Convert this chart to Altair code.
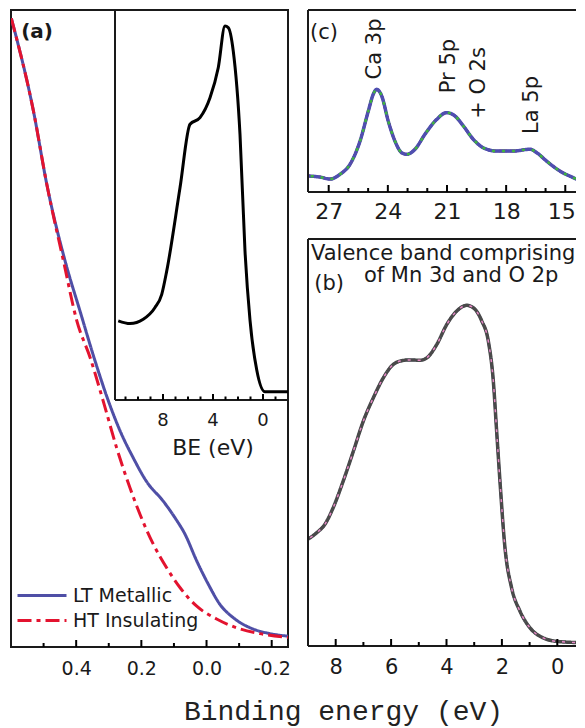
import altair as alt
import pandas as pd

# ---------------- data ----------------
SERIES_A = ["LT Metallic", "HT Insulating"]
A_LT_E = [0.599, 0.531, 0.490, 0.434, 0.388, 0.342, 0.301, 0.265, 0.225, 0.183,
          0.133, 0.097, 0.066, 0.030, -0.006, -0.041, -0.082, -0.144, -0.195, -0.250]
A_LT_I = [0.987, 0.841, 0.726, 0.606, 0.527, 0.449, 0.386, 0.339, 0.297, 0.259,
          0.229, 0.203, 0.177, 0.135, 0.098, 0.067, 0.046, 0.028, 0.021, 0.017]
A_HT_E = [0.599, 0.531, 0.490, 0.439, 0.398, 0.357, 0.317, 0.276, 0.235, 0.204,
          0.163, 0.122, 0.081, 0.030, -0.031, -0.093, -0.164, -0.250]
A_HT_I = [0.987, 0.841, 0.726, 0.606, 0.512, 0.454, 0.386, 0.313, 0.250, 0.208,
          0.161, 0.124, 0.093, 0.064, 0.044, 0.030, 0.021, 0.015]
A_TICKS_MAJOR = [0.4, 0.2, 0.0, -0.2]
A_TICKS_MINOR = [0.5, 0.3, 0.1, -0.1]

INSET_BE = [11.58, 10.64, 9.58, 8.64, 8.10, 7.70, 6.64, 5.84, 5.04, 4.24,
            3.58, 3.04, 2.78, 2.38, 1.84, 1.44, 1.04, 0.50, -0.16, -2.0]
INSET_I = [0.203, 0.196, 0.207, 0.237, 0.271, 0.331, 0.544, 0.707, 0.724, 0.775,
           0.852, 0.959, 0.955, 0.895, 0.681, 0.382, 0.205, 0.077, 0.021, 0.021]
INSET_TICKS_MAJOR = [8, 4, 0]
INSET_TICKS_MINOR = [11, 10, 9, 7, 6, 5, 3, 2, 1, -1]
INSET_TITLE = "BE (eV)"

C_E = [28.03, 27.44, 26.93, 26.43, 25.92, 25.41, 24.99, 24.74, 24.57, 24.31,
       23.98, 23.64, 23.30, 23.04, 22.62, 22.12, 21.52, 21.02, 20.60, 20.17,
       19.67, 19.16, 18.48, 17.64, 16.79, 16.45, 15.95, 15.27, 14.60, 14.00]
C_I = [0.088, 0.082, 0.071, 0.097, 0.152, 0.280, 0.445, 0.537, 0.564, 0.527,
       0.390, 0.280, 0.216, 0.207, 0.235, 0.317, 0.399, 0.436, 0.418, 0.363,
       0.290, 0.243, 0.225, 0.225, 0.235, 0.216, 0.170, 0.115, 0.079, 0.051]
C_TICKS_MAJOR = [27, 24, 21, 18, 15]
C_TICKS_MINOR = [26, 25, 23, 22, 20, 19, 17, 16]
C_PEAKS = ["Ca 3p", "Pr 5p", "+ O 2s", "La 5p"]
C_PEAK_E = [24.65, 20.90, 19.38, 16.69]
C_PEAK_I = [0.786, 0.692, 0.599, 0.478]

B_E = [8.99, 8.69, 8.39, 8.09, 7.73, 7.36, 7.00, 6.64, 6.28, 5.98, 5.68, 5.32,
       4.96, 4.71, 4.35, 3.99, 3.63, 3.27, 3.03, 2.73, 2.49, 2.31, 2.19, 2.07,
       1.89, 1.65, 1.35, 0.99, 0.51, -0.04, -1.00]
B_I = [0.263, 0.278, 0.299, 0.340, 0.405, 0.479, 0.553, 0.610, 0.659, 0.688,
       0.700, 0.703, 0.702, 0.708, 0.741, 0.790, 0.823, 0.837, 0.831, 0.799,
       0.749, 0.651, 0.528, 0.405, 0.242, 0.143, 0.086, 0.045, 0.020, 0.011, 0.008]
B_TICKS_MAJOR = [8, 6, 4, 2, 0]
B_TICKS_MINOR = [7, 5, 3, 1]
B_NOTE = ["Valence band comprising", "of Mn 3d and O 2p"]
X_TITLE = "Binding energy (eV)"

# ---------------- styles / layout ----------------
FONT = "DejaVu Sans"
INK = "#1a1a1a"
TICK_INK = "#000000"
W = 277            # panel (a) plot width
WR = 269           # visible width of panels (b) and (c) (page is cut at the right)
HA, HC, HB = 637, 182, 407
A_COLORS = ["#4f4fa6", "#e3132f"]
A_DASHES = [[1, 0], [14, 5, 4, 5]]
C_STYLES = [("#f2c31b", 1.5, [1, 0]), ("#ff6fcf", 1.5, [4, 3]), ("#9a66cc", 2.0, [1, 0]),
            ("#111111", 2.5, [1, 0]), ("#e3132f", 2.5, [8, 3]), ("#4f4fb0", 3.5, [1, 0]),
            ("#3fb33f", 2.5, [3, 7])]
B_STYLES = [("#1d1d80", 2.5, [1, 0]), ("#2fa52f", 1.5, [1, 0]), ("#e6d51e", 1.5, [5, 3]),
            ("#d6163f", 1.5, [6, 4]), ("#86c5e6", 1.5, [1, 0]), ("#4a4a4a", 3.5, [1, 0]),
            ("#e586c4", 1.5, [3, 7])]
MAJ, MIN = 7, 4


def qscale(dom):
    return alt.Scale(domain=dom, nice=False, zero=False)


def ticks_df(major, minor, plot_h, maj=MAJ, mn=MIN):
    rows = [{"E": v, "lo": 0.0, "hi": maj / plot_h} for v in major]
    rows += [{"E": v, "lo": 0.0, "hi": mn / plot_h} for v in minor]
    return pd.DataFrame(rows)


# ---------------- panel (a) ----------------
a_dom = [0.6, -0.25]
xa = alt.X("E:Q", scale=qscale(a_dom), title=None,
           axis=alt.Axis(values=A_TICKS_MAJOR, labelFontSize=19, labelPadding=12.5, title=None,
                         labelExpr="replace(format(datum.value, '.1f'), '\u2212', '-')"))
ya = alt.Y("I:Q", scale=qscale([0, 1]), axis=None, title=None)

a_lines = pd.concat([
    pd.DataFrame({"series": SERIES_A[0], "E": A_LT_E, "I": A_LT_I, "k": range(len(A_LT_E))}),
    pd.DataFrame({"series": SERIES_A[1], "E": A_HT_E, "I": A_HT_I, "k": range(len(A_HT_E))}),
])
leg = alt.Legend(title=None, orient="none", legendX=5, legendY=573, symbolType="stroke",
                 symbolSize=2401, symbolStrokeWidth=3, labelFontSize=19, labelFont=FONT,
                 labelColor=INK, clipHeight=25, rowPadding=0, padding=0, labelOffset=5,
                 labelLimit=300)
a_curves = alt.Chart(a_lines).mark_line(strokeWidth=3, interpolate="monotone", clip=True).encode(
    x=xa, y=ya,
    color=alt.Color("series:N", scale=alt.Scale(domain=SERIES_A, range=A_COLORS), legend=leg),
    strokeDash=alt.StrokeDash("series:N", scale=alt.Scale(domain=SERIES_A, range=A_DASHES), legend=leg),
    order="k:Q",
)
a_ticks = alt.Chart(ticks_df(A_TICKS_MAJOR, A_TICKS_MINOR, HA)).mark_rule(
    color=TICK_INK, strokeWidth=2).encode(
    x=xa, y=alt.Y("lo:Q", scale=qscale([0, 1]), axis=None), y2=alt.Y2("hi"))
a_tag = alt.Chart(pd.DataFrame({"t": ["(a)"], "E": [0.52], "I": [0.965]})).mark_text(
    font=FONT, fontSize=20, fontWeight="bold", color=INK).encode(x=xa, y=ya, text="t:N")
a_main = alt.layer(a_curves, a_ticks, a_tag)

# inset box inside panel (a), in panel pixels
IN_L, IN_R, IN_B = 104, 277, 390
IN_X = [11.84, -2.0]
ppe = (IN_R - IN_L) / (IN_X[0] - IN_X[1])
in_xdom = [IN_X[0] + IN_L / ppe, IN_X[1] - (W - IN_R) / ppe]
in_ydom = [-(HA - IN_B) / IN_B, 1.0]
xi = alt.X("BE:Q", scale=qscale(in_xdom), axis=None, title=None)
yi = alt.Y("I:Q", scale=qscale(in_ydom), axis=None, title=None)

in_curve = alt.Chart(pd.DataFrame({"BE": INSET_BE, "I": INSET_I})).mark_line(
    color="#000000", strokeWidth=3, interpolate="monotone").encode(x=xi, y=yi, order="BE:Q")
in_frame = alt.Chart(pd.DataFrame({"BE": [IN_X[0], IN_X[0]], "BE2": [IN_X[0], IN_X[1]],
                                   "I": [0.0, 0.0], "I2": [1.0, 0.0]})).mark_rule(
    color=INK, strokeWidth=2).encode(x=xi, x2=alt.X2("BE2", title=None), y=yi, y2=alt.Y2("I2", title=None))
in_t = ticks_df(INSET_TICKS_MAJOR, INSET_TICKS_MINOR, IN_B, maj=6, mn=3.5).rename(columns={"E": "BE"})
in_ticks = alt.Chart(in_t).mark_rule(color=TICK_INK, strokeWidth=2).encode(
    x=xi, y=alt.Y("lo:Q", scale=qscale(in_ydom), axis=None), y2=alt.Y2("hi"))
in_labels = alt.Chart(pd.DataFrame({"BE": INSET_TICKS_MAJOR, "I": -0.054,
                                    "t": [str(v) for v in INSET_TICKS_MAJOR]})).mark_text(
    font=FONT, fontSize=18, color=INK, baseline="middle").encode(x=xi, y=yi, text="t:N")
in_title = alt.Chart(pd.DataFrame({"BE": [4.0], "I": [-0.123], "t": [INSET_TITLE]})).mark_text(
    font=FONT, fontSize=22, color=INK, baseline="middle").encode(x=xi, y=yi, text="t:N")
a_inset = alt.layer(in_curve, in_frame, in_ticks, in_labels, in_title)

panel_a = alt.layer(a_main, a_inset).resolve_scale(x="independent", y="independent").properties(
    width=W, height=HA)

# ---------------- panel (c) ----------------
c_ppe = 277 / (28.05 - 14.0)
c_dom = [28.05, 28.05 - WR / c_ppe]
xc = alt.X("E:Q", scale=qscale(c_dom), title=None,
           axis=alt.Axis(values=C_TICKS_MAJOR, format="d", labelFontSize=22, labelPadding=9.3, title=None,
                         labelOffset=alt.condition("datum.value == 15", alt.value(-4), alt.value(0))))
yc = alt.Y("I:Q", scale=qscale([0, 1]), axis=None, title=None)
c_df = pd.DataFrame({"E": C_E, "I": C_I})
c_layers = [alt.Chart(c_df).mark_line(color=col, strokeWidth=sw, strokeDash=d,
                                      interpolate="monotone", clip=True).encode(x=xc, y=yc, order="E:Q")
            for col, sw, d in C_STYLES]
c_frame = alt.Chart(pd.DataFrame({"E": [c_dom[0], c_dom[0], c_dom[0]], "E2": [c_dom[0], c_dom[1], c_dom[1]],
                                  "I": [0.0, 1.0, 0.0], "I2": [1.0, 1.0, 0.0]})).mark_rule(
    color=INK, strokeWidth=2).encode(x=xc, x2=alt.X2("E2", title=None), y=yc, y2=alt.Y2("I2", title=None))
c_ticks = alt.Chart(ticks_df(C_TICKS_MAJOR, C_TICKS_MINOR, HC)).mark_rule(
    color=TICK_INK, strokeWidth=2).encode(
    x=xc, y=alt.Y("lo:Q", scale=qscale([0, 1]), axis=None), y2=alt.Y2("hi"))
c_peaks = alt.Chart(pd.DataFrame({"E": C_PEAK_E, "I": C_PEAK_I, "t": C_PEAKS})).mark_text(
    font=FONT, fontSize=21, color=INK, angle=270, baseline="middle", align="center").encode(
    x=xc, y=yc, text="t:N")
c_tag = alt.Chart(pd.DataFrame({"t": ["(c)"], "E": [27.24], "I": [0.874]})).mark_text(
    font=FONT, fontSize=21, color=INK).encode(x=xc, y=yc, text="t:N")
panel_c = alt.layer(*c_layers, c_frame, c_ticks, c_peaks, c_tag).properties(
    width=WR, height=HC, view=alt.ViewBackground(stroke=None))

# ---------------- panel (b) ----------------
b_ppe = 277 / 10.0
b_dom = [9.0, 9.0 - WR / b_ppe]
xb = alt.X("E:Q", scale=qscale(b_dom), title=None,
           axis=alt.Axis(values=B_TICKS_MAJOR, format="d", labelFontSize=21, labelPadding=10.6, title=None))
yb = alt.Y("I:Q", scale=qscale([0, 1]), axis=None, title=None)
b_df = pd.DataFrame({"E": B_E, "I": B_I})
b_layers = [alt.Chart(b_df).mark_line(color=col, strokeWidth=sw, strokeDash=d,
                                      interpolate="monotone", clip=True).encode(x=xb, y=yb, order="E:Q")
            for col, sw, d in B_STYLES]
b_frame = alt.Chart(pd.DataFrame({"E": [b_dom[0], b_dom[0], b_dom[0]], "E2": [b_dom[0], b_dom[1], b_dom[1]],
                                  "I": [0.0, 1.0, 0.0], "I2": [1.0, 1.0, 0.0]})).mark_rule(
    color=INK, strokeWidth=2).encode(x=xb, x2=alt.X2("E2", title=None), y=yb, y2=alt.Y2("I2", title=None))
b_ticks = alt.Chart(ticks_df(B_TICKS_MAJOR, B_TICKS_MINOR, HB)).mark_rule(
    color=TICK_INK, strokeWidth=2).encode(
    x=xb, y=alt.Y("lo:Q", scale=qscale([0, 1]), axis=None), y2=alt.Y2("hi"))
b_note = alt.Chart(pd.DataFrame({"t": B_NOTE, "E": [4.12, 3.47], "I": [0.964, 0.909]})).mark_text(
    font=FONT, fontSize=21, color=INK, baseline="middle").encode(x=xb, y=yb, text="t:N")
b_tag = alt.Chart(pd.DataFrame({"t": ["(b)"], "E": [8.24], "I": [0.890]})).mark_text(
    font=FONT, fontSize=21, color=INK, baseline="middle").encode(x=xb, y=yb, text="t:N")
x_title = alt.Chart(pd.DataFrame({"t": [X_TITLE]})).mark_text(
    font="Liberation Mono", fontSize=28, color="#222222", baseline="alphabetic", align="center").encode(
    x=alt.value(35.5), y=alt.value(481), text="t:N")
panel_b = alt.layer(*b_layers, b_frame, b_ticks, b_note, b_tag, x_title).properties(
    width=WR, height=HB, view=alt.ViewBackground(stroke=None))

right = alt.vconcat(panel_c, panel_b, spacing=47, bounds="flush")
chart = alt.hconcat(panel_a, right, spacing=20, bounds="flush").properties(
    padding={"left": 2, "top": 0, "right": -2, "bottom": 8}
).configure_view(stroke=INK, strokeWidth=2).configure_axis(
    labelFont=FONT, labelColor=INK, domain=False, ticks=False, grid=False
).configure_legend(labelFont=FONT)

chart.save("out.html", embed_options={"renderer": "svg", "actions": False})
